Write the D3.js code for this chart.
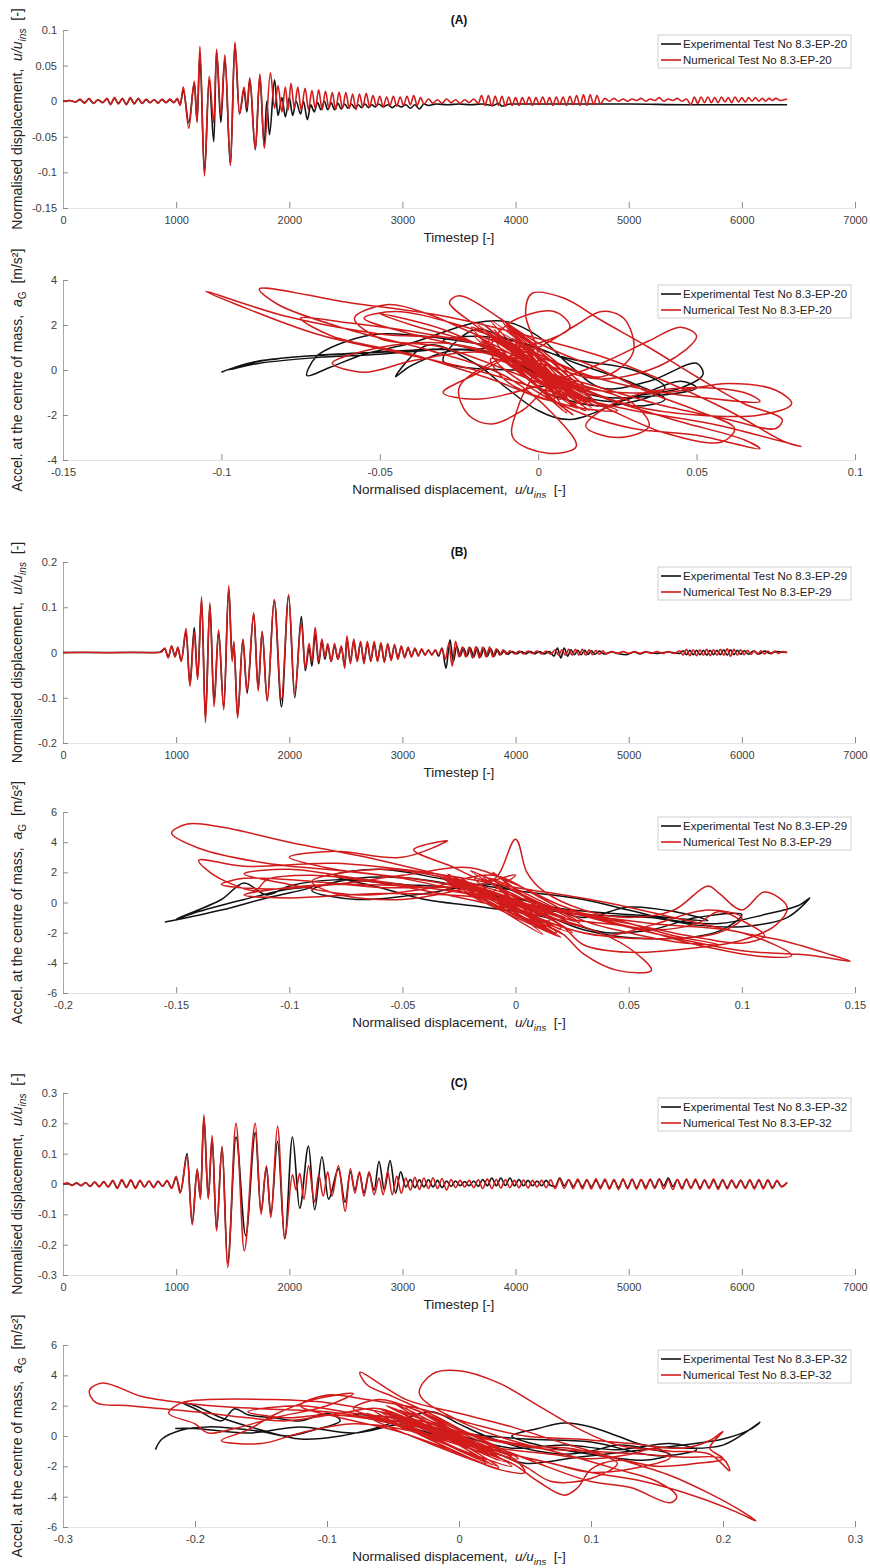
<!DOCTYPE html>
<html><head><meta charset="utf-8">
<script src="https://cdn.jsdelivr.net/npm/d3@7"></script>
<style>body{margin:0;background:#fff}svg{display:block}text{font-family:"Liberation Sans",Arial,sans-serif}</style>
</head><body><svg id="c" width="870" height="1568"></svg>
<script>
// ---------------- DATA ----------------
const timeTicks=[0,1000,2000,3000,4000,5000,6000,7000];
const timeTickLabels=["0","1000","2000","3000","4000","5000","6000","7000"];
const tsA_yTicks=[-0.15,-0.1,-0.05,0,0.05,0.1];
const tsA_yLabels=["-0.15","-0.1","-0.05","0","0.05","0.1"];
const tsB_yTicks=[-0.2,-0.1,0,0.1,0.2];
const tsB_yLabels=["-0.2","-0.1","0","0.1","0.2"];
const tsC_yTicks=[-0.3,-0.2,-0.1,0,0.1,0.2,0.3];
const tsC_yLabels=["-0.3","-0.2","-0.1","0","0.1","0.2","0.3"];
const hyA_xTicks=[-0.15,-0.1,-0.05,0,0.05,0.1];
const hyA_xLabels=["-0.15","-0.1","-0.05","0","0.05","0.1"];
const hyA_yTicks=[-4,-2,0,2,4];
const hyA_yLabels=["-4","-2","0","2","4"];
const hyB_xTicks=[-0.2,-0.15,-0.1,-0.05,0,0.05,0.1,0.15];
const hyB_xLabels=["-0.2","-0.15","-0.1","-0.05","0","0.05","0.1","0.15"];
const hyB_yTicks=[-6,-4,-2,0,2,4,6];
const hyB_yLabels=["-6","-4","-2","0","2","4","6"];
const hyC_xTicks=[-0.3,-0.2,-0.1,0,0.1,0.2,0.3];
const hyC_xLabels=["-0.3","-0.2","-0.1","0","0.1","0.2","0.3"];
const hyC_yTicks=[-6,-4,-2,0,2,4,6];
const hyC_yLabels=["-6","-4","-2","0","2","4","6"];
const panelTitles=["(A)","(B)","(C)"];
const legendA=["Experimental Test No 8.3-EP-20","Numerical Test No 8.3-EP-20"];
const legendB=["Experimental Test No 8.3-EP-29","Numerical Test No 8.3-EP-29"];
const legendC=["Experimental Test No 8.3-EP-32","Numerical Test No 8.3-EP-32"];

// time series: [timestep, u/u_ins] at extrema
const tsA_num=[[0,0],[60,0.001],[110,-0.001],[150,0.003],[190,-0.003],[230,0.004],[270,-0.003],[310,0.002],[350,-0.002],[390,0.004],[420,-0.005],[455,0.005],[490,-0.004],[525,0.004],[560,-0.005],[595,0.005],[630,-0.004],[665,0.004],[700,-0.003],[735,0.003],[770,-0.002],[805,0.002],[840,-0.003],[875,0.003],[910,-0.002],[945,0.003],[980,-0.002],[1010,0.004],[1035,-0.006],[1063,0.02],[1112,-0.038],[1161,0.028],[1185,-0.03],[1210,0.077],[1250,-0.105],[1292,0.035],[1333,-0.03],[1357,0.073],[1395,-0.02],[1431,0.065],[1480,-0.09],[1519,0.083],[1560,-0.018],[1600,0.02],[1625,-0.01],[1651,0.033],[1700,-0.068],[1740,0.038],[1779,-0.066],[1833,0.04],[1870,-0.01],[1900,0.022],[1935,-0.015],[1965,0.02],[1990,-0.012],[2015,0.025],[2045,-0.01],[2075,0.02],[2105,-0.012],[2140,0.018],[2170,-0.012],[2200,0.015],[2230,-0.01],[2260,0.016],[2290,-0.012],[2320,0.014],[2350,-0.01],[2380,0.012],[2410,-0.012],[2440,0.013],[2470,-0.01],[2500,0.012],[2530,-0.01],[2560,0.01],[2590,-0.012],[2620,0.01],[2650,-0.008],[2680,0.011],[2710,-0.008],[2740,0.008],[2770,-0.007],[2800,0.007],[2830,-0.008],[2860,0.006],[2890,-0.006],[2920,0.007],[2950,-0.007],[2980,0.006],[3010,-0.006],[3040,0.007],[3070,-0.005],[3100,0.008],[3130,-0.006],[3160,0.005],[3190,-0.004],[3230,0.003],[3270,-0.003],[3310,0.002],[3350,-0.003],[3390,0.003],[3430,-0.002],[3470,0.002],[3510,-0.003],[3550,0.002],[3590,-0.002],[3630,0.003],[3670,-0.003],[3700,0.008],[3730,-0.006],[3760,0.008],[3790,-0.007],[3820,0.007],[3850,-0.006],[3880,0.007],[3910,-0.007],[3940,0.006],[3970,-0.006],[4000,0.005],[4030,-0.006],[4060,0.005],[4090,-0.005],[4120,0.006],[4150,-0.006],[4180,0.005],[4210,-0.005],[4240,0.006],[4270,-0.005],[4300,0.005],[4330,-0.006],[4360,0.006],[4390,-0.005],[4420,0.006],[4450,-0.006],[4480,0.007],[4510,-0.005],[4540,0.008],[4570,-0.006],[4600,0.009],[4630,-0.006],[4660,0.009],[4690,-0.005],[4720,0.008],[4750,-0.004],[4790,0.004],[4830,0.0],[4870,0.004],[4910,0.0],[4950,0.003],[4990,0.0],[5030,0.003],[5070,0.001],[5110,0.004],[5150,0.0],[5190,0.003],[5230,0.001],[5270,0.005],[5310,0.0],[5350,0.003],[5390,0.001],[5430,0.004],[5470,0.0],[5510,0.003],[5550,-0.005],[5580,0.006],[5610,-0.003],[5640,0.006],[5670,-0.002],[5700,0.006],[5730,-0.002],[5760,0.005],[5790,-0.002],[5820,0.006],[5850,-0.001],[5880,0.005],[5910,-0.002],[5940,0.006],[5970,-0.001],[6000,0.005],[6030,-0.001],[6060,0.005],[6090,0.0],[6120,0.005],[6150,0.0],[6180,0.004],[6210,0.0],[6240,0.004],[6270,0.001],[6300,0.004],[6340,0.001],[6400,0.003]];
const tsA_exp=[[0,0],[60,0.001],[110,-0.001],[150,0.002],[190,-0.002],[230,0.003],[270,-0.003],[310,0.002],[350,-0.002],[390,0.003],[420,-0.004],[455,0.004],[490,-0.003],[525,0.003],[560,-0.004],[595,0.004],[630,-0.003],[665,0.003],[700,-0.003],[735,0.002],[770,-0.002],[805,0.002],[840,-0.002],[875,0.002],[910,-0.002],[945,0.002],[980,-0.002],[1010,0.003],[1035,-0.005],[1063,0.015],[1112,-0.03],[1161,0.025],[1185,-0.028],[1210,0.065],[1250,-0.1],[1292,0.03],[1333,-0.057],[1357,0.07],[1395,-0.03],[1431,0.06],[1480,-0.09],[1519,0.08],[1560,-0.018],[1600,0.015],[1625,-0.015],[1651,0.03],[1700,-0.068],[1740,0.035],[1779,-0.063],[1800,0.0],[1825,-0.047],[1870,0.03],[1900,-0.02],[1935,0.005],[1965,-0.022],[2000,0.005],[2030,-0.02],[2060,0.0],[2100,-0.018],[2125,0.0],[2160,-0.026],[2190,-0.005],[2220,-0.015],[2250,-0.002],[2280,-0.012],[2310,0.0],[2340,-0.012],[2370,-0.002],[2400,-0.012],[2430,-0.003],[2460,-0.011],[2490,-0.004],[2520,-0.01],[2550,-0.004],[2580,-0.01],[2610,-0.005],[2640,-0.009],[2670,-0.004],[2700,-0.009],[2730,-0.005],[2760,-0.008],[2790,-0.004],[2830,-0.008],[2870,-0.005],[2910,-0.009],[2950,-0.005],[2990,-0.008],[3030,-0.005],[3070,-0.01],[3110,-0.005],[3150,-0.011],[3190,-0.004],[3230,-0.006],[3300,-0.004],[3400,-0.005],[3500,-0.004],[3600,-0.005],[3700,-0.004],[3800,-0.006],[3850,-0.003],[3880,-0.007],[3950,-0.004],[4100,-0.004],[4400,-0.004],[4700,-0.004],[5000,-0.004],[5500,-0.005],[6000,-0.005],[6400,-0.005]];

const tsB_num=[[0,0],[200,0.0005],[400,-0.0005],[600,0.0005],[800,-0.0005],[870,0.001],[900,0.01],[930,-0.012],[960,0.015],[990,-0.01],[1015,0.012],[1045,-0.02],[1088,0.053],[1122,-0.075],[1160,0.045],[1190,-0.06],[1225,0.123],[1259,-0.155],[1298,0.11],[1335,-0.12],[1375,0.05],[1421,-0.127],[1465,0.148],[1495,-0.02],[1510,0.025],[1543,-0.145],[1590,0.03],[1627,-0.085],[1686,0.088],[1725,-0.085],[1760,0.047],[1805,-0.108],[1867,0.117],[1931,-0.105],[1994,0.128],[2048,-0.09],[2107,0.065],[2141,-0.035],[2175,0.02],[2200,-0.02],[2229,0.055],[2260,-0.02],[2288,0.03],[2315,-0.01],[2340,0.02],[2370,-0.02],[2400,0.02],[2430,-0.015],[2460,0.015],[2490,-0.035],[2509,0.037],[2540,-0.025],[2570,0.03],[2600,-0.02],[2630,0.025],[2660,-0.025],[2690,0.025],[2720,-0.02],[2750,0.025],[2780,-0.02],[2810,0.022],[2840,-0.022],[2870,0.02],[2900,-0.018],[2930,0.018],[2960,-0.015],[2990,0.015],[3020,-0.012],[3050,0.012],[3080,-0.01],[3110,0.01],[3140,-0.008],[3170,0.008],[3200,-0.006],[3230,0.006],[3260,-0.006],[3290,0.006],[3320,-0.005],[3350,0.008],[3380,-0.015],[3410,0.02],[3440,-0.03],[3470,0.025],[3500,-0.01],[3530,0.012],[3560,-0.01],[3590,0.012],[3620,-0.012],[3650,0.013],[3680,-0.012],[3710,0.012],[3740,-0.01],[3770,0.012],[3800,-0.01],[3830,0.008],[3860,-0.006],[3890,0.006],[3920,-0.004],[3950,0.004],[3990,-0.003],[4030,0.003],[4070,-0.003],[4110,0.003],[4150,-0.002],[4190,0.003],[4230,-0.003],[4270,0.003],[4310,-0.004],[4350,0.006],[4380,-0.006],[4410,0.006],[4440,-0.006],[4470,0.007],[4500,-0.006],[4530,0.007],[4560,-0.006],[4590,0.007],[4620,-0.006],[4650,0.006],[4680,-0.005],[4710,0.005],[4740,-0.004],[4770,0.004],[4800,-0.003],[4850,0.002],[4900,-0.002],[4950,0.002],[5000,-0.002],[5050,0.002],[5100,-0.002],[5150,0.002],[5200,-0.002],[5250,0.002],[5300,-0.002],[5350,0.002],[5400,-0.002],[5450,0.004],[5480,-0.006],[5510,0.007],[5540,-0.007],[5570,0.006],[5600,-0.007],[5630,0.006],[5660,-0.006],[5690,0.007],[5720,-0.007],[5750,0.006],[5780,-0.006],[5810,0.007],[5840,-0.006],[5870,0.008],[5900,-0.008],[5930,0.007],[5960,-0.006],[5990,0.006],[6020,-0.005],[6050,0.005],[6080,-0.004],[6110,0.004],[6140,-0.004],[6170,0.004],[6200,-0.003],[6230,0.003],[6260,-0.003],[6290,0.003],[6320,-0.002],[6360,0.002],[6400,0.0]];
const tsB_exp=[[0,0],[850,0.0],[900,0.008],[930,-0.01],[960,0.013],[990,-0.008],[1015,0.01],[1045,-0.018],[1088,0.045],[1122,-0.07],[1160,0.055],[1190,-0.055],[1225,0.115],[1259,-0.145],[1298,0.105],[1335,-0.11],[1375,0.045],[1421,-0.12],[1465,0.14],[1495,-0.015],[1510,0.02],[1543,-0.14],[1590,0.028],[1627,-0.09],[1686,0.085],[1725,-0.08],[1760,0.045],[1805,-0.105],[1867,0.115],[1931,-0.12],[1994,0.125],[2048,-0.1],[2107,0.08],[2141,-0.04],[2175,0.01],[2200,-0.03],[2229,0.04],[2260,-0.025],[2288,0.025],[2315,-0.015],[2340,0.015],[2370,-0.02],[2400,0.015],[2430,-0.015],[2460,0.012],[2490,-0.03],[2509,0.03],[2540,-0.02],[2570,0.025],[2600,-0.018],[2630,0.022],[2660,-0.02],[2690,0.02],[2720,-0.018],[2750,0.02],[2780,-0.018],[2810,0.02],[2840,-0.02],[2870,0.018],[2900,-0.015],[2930,0.015],[2960,-0.012],[2990,0.012],[3020,-0.01],[3050,0.01],[3080,-0.008],[3110,0.008],[3140,-0.006],[3170,0.006],[3200,-0.005],[3230,0.005],[3260,-0.005],[3290,0.005],[3320,-0.008],[3350,0.01],[3385,-0.035],[3420,0.028],[3450,-0.02],[3480,0.015],[3510,-0.008],[3540,0.01],[3570,-0.008],[3600,0.01],[3630,-0.01],[3660,0.01],[3690,-0.01],[3720,0.01],[3750,-0.008],[3780,0.008],[3810,-0.008],[3840,0.006],[3870,-0.005],[3900,0.004],[3930,-0.004],[3970,0.002],[4010,-0.003],[4050,0.002],[4090,-0.003],[4130,0.002],[4170,-0.003],[4210,0.002],[4250,-0.003],[4300,0.002],[4340,-0.008],[4370,0.01],[4400,-0.012],[4430,0.01],[4460,-0.008],[4490,0.006],[4520,-0.005],[4550,0.005],[4580,-0.005],[4610,0.005],[4640,-0.004],[4670,0.004],[4700,-0.004],[4740,0.003],[4780,-0.003],[4850,0.001],[4900,-0.002],[4980,-0.005],[5050,0.001],[5100,-0.003],[5150,0.001],[5250,-0.002],[5350,0.001],[5450,-0.002],[5480,0.004],[5510,-0.005],[5540,0.005],[5570,-0.005],[5600,0.005],[5630,-0.005],[5660,0.005],[5690,-0.006],[5720,0.005],[5750,-0.005],[5780,0.005],[5810,-0.005],[5840,0.006],[5870,-0.006],[5900,0.006],[5930,-0.005],[5960,0.005],[5990,-0.004],[6020,0.004],[6060,-0.004],[6100,0.003],[6150,-0.003],[6200,0.003],[6250,-0.002],[6300,0.002],[6400,0.0]];

const tsC_num=[[0,0],[40,0.003],[80,-0.005],[120,0.004],[160,-0.006],[200,0.005],[240,-0.008],[280,0.007],[320,-0.01],[360,0.008],[400,-0.01],[440,0.012],[480,-0.015],[520,0.015],[560,-0.012],[600,0.014],[640,-0.015],[680,0.012],[720,-0.01],[760,0.01],[800,-0.012],[840,0.01],[880,-0.008],[920,0.012],[960,-0.015],[1000,0.025],[1035,-0.03],[1097,0.09],[1142,-0.135],[1186,0.05],[1215,-0.05],[1245,0.228],[1284,-0.05],[1318,0.16],[1357,-0.155],[1406,0.125],[1455,-0.275],[1529,0.2],[1602,-0.22],[1700,0.2],[1750,-0.1],[1798,0.06],[1837,-0.11],[1896,0.19],[1960,-0.18],[2028,0.03],[2060,-0.02],[2092,0.035],[2130,-0.05],[2170,0.06],[2224,-0.06],[2260,0.03],[2300,-0.04],[2340,0.04],[2376,-0.04],[2435,0.06],[2494,-0.09],[2540,0.05],[2580,-0.03],[2620,0.04],[2660,-0.04],[2705,0.04],[2750,-0.035],[2793,0.02],[2830,-0.035],[2870,0.04],[2910,-0.035],[2950,0.025],[2990,-0.03],[3030,0.02],[3070,-0.02],[3110,0.022],[3150,-0.018],[3190,0.02],[3230,-0.015],[3270,0.02],[3310,-0.015],[3350,0.018],[3390,-0.02],[3430,0.015],[3470,-0.012],[3510,0.012],[3550,-0.01],[3590,0.012],[3630,-0.012],[3670,0.014],[3710,-0.015],[3750,0.016],[3790,-0.015],[3830,0.015],[3870,-0.013],[3910,0.014],[3950,-0.012],[3990,0.012],[4030,-0.012],[4070,0.013],[4110,-0.013],[4150,0.012],[4190,-0.01],[4230,0.012],[4270,-0.012],[4310,0.014],[4350,-0.015],[4390,0.016],[4430,-0.014],[4470,0.014],[4510,-0.015],[4550,0.016],[4590,-0.016],[4630,0.015],[4670,-0.016],[4710,0.017],[4750,-0.016],[4790,0.016],[4830,-0.017],[4870,0.015],[4910,-0.018],[4950,0.017],[4990,-0.016],[5030,0.016],[5070,-0.017],[5110,0.015],[5150,-0.016],[5190,0.016],[5230,-0.015],[5270,0.015],[5310,-0.016],[5350,0.014],[5390,-0.018],[5430,0.015],[5470,-0.017],[5510,0.016],[5550,-0.015],[5590,0.016],[5630,-0.017],[5670,0.014],[5710,-0.015],[5750,0.016],[5790,-0.018],[5830,0.015],[5870,-0.016],[5910,0.013],[5950,-0.014],[5990,0.013],[6030,-0.015],[6070,0.014],[6110,-0.016],[6150,0.015],[6190,-0.016],[6230,0.014],[6270,-0.015],[6310,0.012],[6350,-0.01],[6400,0.005]];
const tsC_exp=[[0,0],[40,0.002],[80,-0.004],[120,0.003],[160,-0.005],[200,0.004],[240,-0.007],[280,0.006],[320,-0.008],[360,0.007],[400,-0.009],[440,0.01],[480,-0.012],[520,0.012],[560,-0.01],[600,0.012],[640,-0.012],[680,0.01],[720,-0.009],[760,0.009],[800,-0.01],[840,0.008],[880,-0.007],[920,0.01],[960,-0.012],[1000,0.02],[1040,-0.025],[1097,0.1],[1142,-0.13],[1186,0.045],[1215,-0.045],[1245,0.22],[1284,-0.045],[1318,0.15],[1357,-0.15],[1406,0.12],[1455,-0.26],[1529,0.155],[1615,-0.17],[1700,0.17],[1750,-0.09],[1798,0.055],[1837,-0.1],[1896,0.14],[1960,-0.18],[2028,0.155],[2092,-0.08],[2170,0.125],[2224,-0.085],[2288,0.09],[2347,-0.05],[2435,0.05],[2494,-0.06],[2540,0.04],[2580,-0.02],[2620,0.035],[2660,-0.03],[2705,0.035],[2750,-0.02],[2793,0.075],[2840,-0.02],[2891,0.077],[2940,-0.03],[2984,0.04],[3030,-0.01],[3070,0.015],[3110,-0.012],[3150,0.014],[3190,-0.01],[3230,0.014],[3270,-0.01],[3310,0.012],[3350,-0.012],[3390,0.01],[3430,-0.008],[3470,0.01],[3510,-0.006],[3550,0.008],[3590,-0.006],[3630,0.01],[3670,-0.008],[3710,0.015],[3750,-0.006],[3790,0.02],[3830,-0.006],[3870,0.02],[3910,-0.005],[3950,0.02],[3990,-0.006],[4030,0.015],[4070,-0.006],[4110,0.012],[4150,-0.006],[4190,0.01],[4230,-0.006],[4270,0.012],[4310,-0.005],[4350,-0.008],[4390,0.02],[4430,-0.006],[4470,0.014],[4510,-0.008],[4550,0.012],[4590,-0.01],[4630,0.012],[4670,-0.01],[4710,0.012],[4750,-0.01],[4790,0.012],[4830,-0.012],[4870,0.012],[4910,-0.012],[4950,0.013],[4990,-0.012],[5030,0.014],[5070,-0.012],[5110,0.014],[5150,-0.01],[5190,0.013],[5230,-0.01],[5270,0.016],[5310,-0.006],[5350,0.02],[5390,-0.008],[5430,0.014],[5470,-0.012],[5510,0.013],[5550,-0.012],[5590,0.012],[5630,-0.012],[5670,0.012],[5710,-0.012],[5750,0.012],[5790,-0.012],[5830,0.012],[5870,-0.012],[5910,0.011],[5950,-0.01],[5990,0.011],[6030,-0.012],[6070,0.012],[6110,-0.012],[6150,0.012],[6190,-0.012],[6230,0.012],[6270,-0.012],[6310,0.01],[6350,-0.008],[6400,0.005]];

// hysteresis: [u/u_ins, a_G]
const hyA_num=[[0,0],[-0.012,1.5],[0.012,-1.3],[-0.016,1.9],[0.014,-1.6],[-0.01,1.3],[0.016,-1.8],[-0.018,2.1],[0.01,-1.0],[-0.014,1.7],[0.015,-1.5],[-0.008,0.8],[0.012,-1.7],[-0.02,1.6],[0.005,-0.8],[-0.015,2.2],[0.018,-1.4],[-0.006,1.1],[0.009,-1.9],[-0.013,1.2],[0.013,-1.1],[-0.017,1.8],[0.006,-0.6],[-0.01,2.0],[0.011,-1.6],[-0.004,0.7],[0.017,-1.7],[-0.019,2.0],[0.013,-1.5],[-0.011,1.6],[0.016,-1.2],[-0.016,1.4],[0.008,-1.7],[-0.021,1.9],[0.014,-0.9],[-0.007,1.7],[0.019,-1.6],[-0.014,0.9],[0.011,-2.0],[-0.018,1.3],[0.015,-1.8],[-0.012,2.3],[0.007,-1.3],[-0.02,1.5],[0.017,-1.1],[-0.009,1.9],[0.012,-1.5],[-0.02,1.2],[-0.05,1.6],[-0.08,2.4],[-0.105,3.5],[-0.095,2.9],[-0.07,1.6],[-0.045,0.8],[-0.02,0.0],[0.005,-1.0],[0.03,-1.8],[0.055,-2.4],[0.083,-3.4],[0.078,-3.2],[0.06,-1.8],[0.04,-0.5],[0.02,0.6],[0.0,1.4],[-0.03,2.4],[-0.06,3.0],[-0.088,3.6],[-0.082,2.9],[-0.06,1.8],[-0.035,0.9],[-0.01,-0.3],[0.005,-2.0],[0.012,-3.4],[0.003,-3.7],[-0.008,-3.0],[-0.006,-1.5],[0.0,0.5],[-0.004,2.5],[-0.002,3.4],[0.008,3.2],[0.02,2.2],[0.035,1.0],[0.05,-0.3],[0.065,-1.5],[0.077,-2.2],[0.075,-2.6],[0.06,-2.2],[0.04,-1.6],[0.02,-0.8],[0.0,0.0],[-0.02,0.9],[-0.04,1.6],[-0.055,2.3],[-0.045,2.6],[-0.025,2.0],[-0.005,1.0],[0.015,-0.2],[0.035,-0.9],[0.05,-1.2],[0.07,-1.4],[0.065,-1.0],[0.045,-0.8],[0.025,-1.4],[0.015,-2.5],[0.025,-3.0],[0.035,-2.5],[0.03,-1.5],[0.01,-0.5],[-0.01,0.6],[-0.03,1.2],[-0.05,1.0],[-0.065,0.3],[-0.055,-0.1],[-0.04,0.4],[-0.02,0.8],[0.0,0.3],[0.02,-0.4],[0.04,0.3],[0.05,1.5],[0.045,1.9],[0.035,1.3],[0.02,0.3],[0.0,-0.7],[-0.02,-1.3],[-0.03,-1.0],[-0.02,-0.2],[-0.005,0.9],[0.01,1.9],[0.005,2.6],[-0.01,2.0],[-0.015,0.8],[0.0,-1.0],[0.015,-2.0],[0.03,-2.6],[0.05,-2.9],[0.07,-3.5],[0.065,-3.1],[0.045,-2.3],[0.02,-1.2],[0.0,0.0],[-0.02,1.2],[-0.04,2.0],[-0.05,2.5],[-0.03,1.8],[-0.01,0.5],[0.01,-1.0],[0.025,-1.8],[0.01,-1.6],[-0.01,-0.5],[-0.015,0.5],[0.0,-0.3],[0.012,-1.2],[-0.03,1.0],[-0.05,1.4],[-0.058,2.3],[-0.048,2.9],[-0.035,2.5],[-0.02,1.6],[0.0,0.6],[0.02,-0.3],[0.03,0.8],[0.027,2.3],[0.02,2.6],[0.012,2.0],[0.0,1.0],[-0.015,0.3],[-0.025,-0.8],[-0.022,-2.0],[-0.015,-2.4],[-0.005,-1.8],[0.005,-0.7],[0.02,-1.6],[0.04,-2.8],[0.058,-3.2],[0.062,-2.6],[0.05,-1.8],[0.035,-1.0],[0.02,0.0],[0.0,1.2],[-0.025,3.3],[-0.028,3.0],[-0.02,2.0],[-0.005,0.5],[0.015,-0.8],[0.04,-1.0],[0.06,-0.6],[0.075,-0.9],[0.08,-1.5],[0.07,-2.0],[0.05,-2.0],[0.03,-1.6],[0.01,-0.6],[-0.01,0.8],[-0.035,1.6],[-0.06,2.1],[-0.075,2.3],[-0.065,1.5],[-0.04,0.7],[-0.015,-0.4],[0.005,-1.3],[-0.008,1.4],[0.01,-1.4],[-0.014,1.8],[0.0,0.0]];
const hyA_exp=[[-0.1,-0.1],[-0.095,0.15],[-0.085,0.45],[-0.07,0.65],[-0.05,0.8],[-0.03,0.95],[-0.05,0.7],[-0.07,0.55],[-0.088,0.3],[-0.098,0.0],[-0.09,0.35],[-0.075,0.6],[-0.055,0.75],[-0.035,0.9],[-0.015,1.0],[-0.03,1.4],[-0.05,1.6],[-0.06,1.3],[-0.07,0.6],[-0.073,-0.25],[-0.066,0.1],[-0.055,0.7],[-0.04,1.2],[-0.02,2.1],[-0.01,2.15],[0.0,1.5],[0.01,0.2],[0.02,-0.8],[0.035,-0.5],[0.05,0.3],[0.052,-0.2],[0.045,-0.8],[0.03,-1.2],[0.01,-2.2],[0.0,-1.8],[-0.01,-0.8],[-0.02,0.3],[-0.035,1.1],[-0.045,-0.3],[-0.04,0.2],[-0.025,0.9],[-0.01,0.5],[0.0,-0.2],[0.015,-0.9],[0.03,-1.6],[0.04,-1.3],[0.03,-0.6],[0.012,0.3],[-0.005,1.2],[-0.02,1.5],[-0.03,1.3],[-0.01,0.6],[0.005,-0.4],[0.02,-1.2],[0.05,-0.8],[0.045,-0.5],[0.025,-1.4],[0.01,-1.0],[-0.005,0.2],[-0.015,1.0],[-0.008,0.4],[0.005,-0.6],[0.0,-0.8],[0.02,-1.6],[0.04,-0.8],[0.03,0.0],[0.01,0.5],[-0.01,1.4],[-0.02,1.8],[-0.03,0.4],[-0.005,0.0]];

const hyB_num=[[0,0],[-0.025,1.5],[0.02,-1.8],[-0.03,1.9],[0.022,-2.2],[-0.02,1.2],[0.025,-1.5],[-0.015,1.8],[0.018,-2.0],[-0.028,1.4],[0.015,-1.2],[-0.01,2.0],[0.02,-1.7],[-0.022,1.1],[0.012,-2.1],[-0.018,1.6],[0.024,-1.4],[-0.035,1.8],[0.025,-2.0],[-0.02,2.1],[0.03,-1.6],[-0.03,1.3],[0.02,-2.3],[-0.025,1.7],[0.015,-1.9],[-0.012,1.6],[0.028,-1.3],[-0.032,1.6],[0.018,-2.1],[-0.02,1.0],[0.022,-1.0],[-0.03,1.2],[-0.07,2.0],[-0.11,2.6],[-0.14,3.6],[-0.152,4.6],[-0.145,5.2],[-0.13,5.0],[-0.1,4.0],[-0.06,2.8],[-0.02,1.3],[0.02,-0.5],[0.06,-2.0],[0.1,-3.2],[0.13,-3.5],[0.148,-3.9],[0.14,-3.5],[0.12,-2.6],[0.1,-2.0],[0.07,-1.0],[0.04,0.0],[0.0,1.0],[-0.04,2.0],[-0.08,2.6],[-0.12,2.4],[-0.14,2.8],[-0.135,2.0],[-0.125,1.2],[-0.115,0.8],[-0.11,1.5],[-0.09,1.8],[-0.06,1.3],[-0.03,0.5],[0.0,-0.5],[0.03,-1.6],[0.05,-3.0],[0.06,-4.5],[0.045,-4.5],[0.03,-3.4],[0.02,-2.0],[0.0,-0.8],[-0.02,0.5],[-0.05,1.6],[-0.08,2.2],[-0.1,3.0],[-0.08,3.4],[-0.05,3.0],[-0.03,4.1],[-0.045,3.5],[-0.03,2.5],[-0.01,1.5],[0.0,4.2],[0.005,2.0],[0.012,0.8],[0.03,-0.5],[0.05,-1.0],[0.07,-0.5],[0.085,1.1],[0.09,0.6],[0.1,-0.5],[0.11,0.7],[0.12,-0.3],[0.115,-1.5],[0.1,-2.5],[0.08,-3.0],[0.05,-3.3],[0.03,-2.8],[0.02,-1.5],[0.0,-0.2],[-0.03,0.8],[-0.07,1.2],[-0.1,1.0],[-0.12,0.5],[-0.1,0.3],[-0.06,0.6],[-0.02,0.4],[0.02,-0.6],[0.06,-1.4],[0.1,-2.0],[0.122,-3.5],[0.11,-3.6],[0.08,-2.8],[0.05,-1.6],[0.02,-1.0],[0.0,0.2],[-0.03,1.6],[-0.06,2.2],[-0.09,1.4],[-0.08,0.6],[-0.05,0.2],[-0.02,1.0],[0.0,1.8],[-0.01,0.6],[0.01,-1.0],[0.03,-2.0],[0.06,-2.4],[0.09,-2.0],[0.1,-1.0],[0.085,-0.5],[0.06,-1.5],[0.04,-2.2],[0.02,-1.6],[0.0,-0.4],[-0.015,0.8],[-0.06,1.0],[-0.09,1.4],[-0.12,1.6],[-0.13,1.2],[-0.11,0.9],[-0.08,1.2],[-0.05,1.8],[-0.02,2.3],[0.0,1.2],[0.02,-0.2],[0.04,-1.2],[0.06,-1.8],[0.08,-1.4],[0.09,-0.6],[0.1,-1.2],[0.11,-2.2],[0.1,-2.7],[0.08,-2.3],[0.05,-1.4],[0.02,-0.6],[-0.01,0.4],[-0.04,1.0],[-0.07,1.6],[-0.1,2.2],[-0.12,1.9],[-0.1,1.2],[-0.07,0.5],[-0.04,0.9],[-0.01,1.8],[0.01,0.4],[0.03,-1.2],[0.05,-2.0],[0.07,-2.6],[0.09,-2.8],[0.07,-2.2],[0.04,-1.0],[0.0,0.0]];
const hyB_exp=[[-0.155,-1.3],[-0.13,-0.5],[-0.11,0.3],[-0.09,1.0],[-0.1,0.9],[-0.12,0.2],[-0.14,-0.6],[-0.15,-1.1],[-0.13,0.2],[-0.12,1.3],[-0.11,0.5],[-0.1,1.1],[-0.08,1.5],[-0.05,1.2],[-0.03,1.0],[-0.01,0.6],[0.01,-0.4],[0.03,-0.8],[0.06,-1.0],[0.08,-1.5],[0.1,-1.6],[0.12,-1.0],[0.13,0.3],[0.125,-0.2],[0.11,-0.8],[0.09,-1.4],[0.07,-1.2],[0.05,-0.5],[0.03,0.2],[0.0,0.8],[-0.03,1.5],[-0.06,2.2],[-0.08,1.8],[-0.06,1.0],[-0.04,0.2],[-0.02,-0.2],[0.0,-0.6],[0.02,-1.2],[0.04,-2.0],[0.06,-1.8],[0.08,-1.0],[0.1,-0.8],[0.09,-1.9],[0.06,-2.4],[0.03,-1.8],[0.01,-0.6],[-0.01,0.5],[-0.04,1.5],[-0.07,1.6],[-0.09,0.8],[-0.07,0.2],[-0.04,0.6],[-0.01,1.2],[0.01,0.0],[0.03,-1.0],[0.05,-0.3],[0.07,-0.6],[0.085,-1.2],[0.06,-0.9],[0.02,-0.4],[0.0,0.3]];

const hyC_num=[[0,0],[-0.05,1.4],[0.03,-1.6],[-0.06,1.8],[0.04,-1.8],[-0.04,1.2],[0.035,-1.2],[-0.055,2.0],[0.02,-1.0],[-0.03,1.6],[0.04,-2.0],[-0.07,1.5],[0.03,-1.4],[-0.045,1.7],[0.025,-1.9],[-0.06,1.6],[0.035,-1.7],[-0.05,2.2],[0.03,-2.1],[-0.07,1.3],[0.045,-1.5],[-0.04,1.9],[0.02,-1.8],[-0.065,1.7],[0.04,-1.3],[-0.03,1.2],[0.03,-2.0],[-0.055,1.5],[0.025,-1.1],[-0.035,1.0],[-0.05,1.0],[-0.1,1.6],[-0.15,1.8],[-0.2,2.1],[-0.24,2.6],[-0.27,3.5],[-0.28,3.0],[-0.275,2.2],[-0.25,2.0],[-0.2,1.6],[-0.16,1.2],[-0.13,1.0],[-0.09,1.5],[-0.06,1.8],[-0.02,0.4],[0.02,-0.8],[0.06,-1.6],[0.1,-2.4],[0.14,-3.0],[0.18,-4.0],[0.21,-5.0],[0.225,-5.6],[0.215,-5.0],[0.19,-3.8],[0.16,-2.6],[0.12,-1.5],[0.08,-0.5],[0.04,0.6],[0.0,1.5],[-0.04,2.4],[-0.075,4.2],[-0.07,3.4],[-0.05,2.6],[-0.02,1.4],[0.02,-0.4],[0.06,-1.8],[0.1,-3.0],[0.13,-3.4],[0.16,-4.4],[0.165,-4.0],[0.15,-3.0],[0.12,-2.2],[0.08,-1.2],[0.04,-0.3],[0.0,1.0],[-0.03,2.8],[-0.02,4.1],[0.0,4.3],[0.03,3.5],[0.06,2.0],[0.09,0.5],[0.12,-0.6],[0.16,-1.0],[0.19,-1.2],[0.205,-2.3],[0.2,-1.5],[0.17,-1.4],[0.14,-1.2],[0.1,-1.0],[0.06,-0.8],[0.02,-0.2],[-0.02,0.8],[-0.06,1.6],[-0.1,2.2],[-0.14,2.4],[-0.19,2.4],[-0.21,2.2],[-0.22,1.5],[-0.2,0.8],[-0.19,0.2],[-0.17,0.5],[-0.14,1.2],[-0.1,2.0],[-0.08,2.8],[-0.11,2.4],[-0.14,1.4],[-0.16,0.4],[-0.18,-0.3],[-0.15,-0.5],[-0.12,0.2],[-0.08,0.8],[-0.04,0.4],[0.0,-0.6],[0.04,-1.8],[0.06,-3.0],[0.08,-3.9],[0.09,-3.4],[0.1,-2.2],[0.12,-1.6],[0.15,-2.0],[0.18,-1.8],[0.2,-1.5],[0.19,-0.8],[0.2,0.3],[0.19,-0.3],[0.17,-0.8],[0.13,-0.5],[0.09,-0.2],[0.05,0.0],[0.01,0.8],[-0.03,1.8],[-0.07,2.4],[-0.1,2.7],[-0.12,2.0],[-0.09,1.2],[-0.05,0.4],[-0.01,-0.8],[0.03,-2.2],[0.05,-2.4],[0.04,-1.4],[0.01,-0.4],[-0.02,0.8],[-0.08,1.5],[-0.12,2.0],[-0.16,1.6],[-0.13,1.2],[-0.1,1.4],[-0.06,1.0],[-0.02,0.0],[0.03,-0.8],[0.07,-1.2],[0.1,-1.5],[0.13,-1.2],[0.15,-0.8],[0.16,-1.4],[0.14,-2.0],[0.1,-2.4],[0.07,-1.8],[0.04,-1.2],[0.0,-0.2],[-0.04,0.8],[-0.08,1.8],[-0.06,2.4],[-0.03,1.6],[0.0,0.4],[0.05,-0.6],[0.09,-0.9],[0.12,-1.8],[0.1,-2.8],[0.07,-3.0],[0.05,-2.0],[0.02,-0.8],[-0.02,0.6],[0.0,0.0]];
const hyC_exp=[[-0.23,-0.9],[-0.225,-0.2],[-0.21,0.4],[-0.19,0.6],[-0.17,0.5],[-0.15,0.3],[-0.13,0.0],[-0.11,0.4],[-0.09,1.0],[-0.1,1.5],[-0.12,1.0],[-0.14,1.2],[-0.16,1.4],[-0.17,1.8],[-0.18,1.0],[-0.2,1.8],[-0.21,2.2],[-0.2,2.0],[-0.18,1.2],[-0.15,0.4],[-0.12,-0.2],[-0.09,0.0],[-0.06,0.6],[-0.04,1.2],[-0.02,1.6],[0.0,0.8],[0.02,0.0],[0.04,-0.6],[0.06,-1.0],[0.08,-1.2],[0.1,-1.0],[0.12,-0.6],[0.14,-0.8],[0.16,-1.2],[0.14,-1.6],[0.1,-1.2],[0.06,-0.6],[0.04,0.0],[0.06,0.5],[0.08,0.85],[0.1,0.6],[0.12,0.0],[0.14,-0.6],[0.17,-0.8],[0.2,-0.6],[0.228,0.9],[0.22,0.4],[0.2,-0.2],[0.17,-0.6],[0.13,-1.0],[0.09,-1.4],[0.05,-1.8],[0.03,-1.2],[0.0,-0.4],[-0.03,0.4],[-0.06,1.0],[-0.08,1.4],[-0.05,1.2],[-0.02,0.6],[0.01,-0.2],[0.04,-0.8],[0.08,-0.6],[0.12,-0.9],[0.16,-0.5],[0.18,-0.9],[0.15,-1.3],[0.1,-0.4],[0.05,-0.2],[0.0,0.2],[-0.04,0.8],[-0.08,0.2],[-0.12,0.6],[-0.16,0.2],[-0.2,0.5],[-0.215,0.5]];

// ---------------- DRAW ----------------
const svg=d3.select('#c');
const X0=63,X1=855;
const RED='#d21c1c',BLK='#121212';
const FONT='"Liberation Sans",Arial,sans-serif';

const panels=[
 {kind:'ts',top:30,bottom:208,xd:[0,7000],xt:timeTicks,xl:timeTickLabels,yd:[-0.15,0.1],yt:tsA_yTicks,yl:tsA_yLabels,exp:tsA_exp,num:tsA_num,leg:legendA,title:panelTitles[0]},
 {kind:'hy',top:280,bottom:460,xd:[-0.15,0.1],xt:hyA_xTicks,xl:hyA_xLabels,yd:[-4,4],yt:hyA_yTicks,yl:hyA_yLabels,exp:hyA_exp,num:hyA_num,leg:legendA},
 {kind:'ts',top:562,bottom:743,xd:[0,7000],xt:timeTicks,xl:timeTickLabels,yd:[-0.2,0.2],yt:tsB_yTicks,yl:tsB_yLabels,exp:tsB_exp,num:tsB_num,leg:legendB,title:panelTitles[1]},
 {kind:'hy',top:812,bottom:993,xd:[-0.2,0.15],xt:hyB_xTicks,xl:hyB_xLabels,yd:[-6,6],yt:hyB_yTicks,yl:hyB_yLabels,exp:hyB_exp,num:hyB_num,leg:legendB},
 {kind:'ts',top:1093,bottom:1275,xd:[0,7000],xt:timeTicks,xl:timeTickLabels,yd:[-0.3,0.3],yt:tsC_yTicks,yl:tsC_yLabels,exp:tsC_exp,num:tsC_num,leg:legendC,title:panelTitles[2]},
 {kind:'hy',top:1345,bottom:1527,xd:[-0.3,0.3],xt:hyC_xTicks,xl:hyC_xLabels,yd:[-6,6],yt:hyC_yTicks,yl:hyC_yLabels,exp:hyC_exp,num:hyC_num,leg:legendC}
];

function richText(sel,parts,size){
  parts.forEach(p=>{
    const t=sel.append('tspan').text(p.t);
    if(p.i) t.attr('font-style','italic');
    if(p.sub) t.attr('font-size',(size*0.72)+'px').attr('dy',size*0.3);
    if(p.after) t.attr('dy',-size*0.3);
  });
}

panels.forEach(p=>{
  const g=svg.append('g');
  const x=d3.scaleLinear().domain(p.xd).range([X0,X1]);
  const y=d3.scaleLinear().domain(p.yd).range([p.bottom,p.top]);

  const ax=g.append('g').attr('transform',`translate(0,${p.bottom})`)
    .call(d3.axisBottom(x).tickValues(p.xt).tickFormat((d,i)=>p.xl[i]).tickSizeInner(-6).tickSizeOuter(0).tickPadding(8));
  ax.select('.domain').attr('stroke','#e4e4e4');
  ax.selectAll('.tick line').attr('stroke','#8a8a8a');
  ax.selectAll('.tick text').attr('font-family',FONT).attr('font-size','11px').attr('fill','#404040');
  const ay=g.append('g').attr('transform',`translate(${X0},0)`)
    .call(d3.axisLeft(y).tickValues(p.yt).tickFormat((d,i)=>p.yl[i]).tickSizeInner(-5).tickSizeOuter(0).tickPadding(6));
  ay.select('.domain').attr('stroke','#a8a8a8');
  ay.selectAll('.tick line').attr('stroke','#8a8a8a');
  ay.selectAll('.tick text').attr('font-family',FONT).attr('font-size','11px').attr('fill','#404040');

  const line=d3.line().x(d=>x(d[0])).y(d=>y(d[1]))
    .curve(p.kind==='ts'?d3.curveMonotoneX:d3.curveCatmullRom.alpha(0.5));
  const sw=p.kind==='ts'?1.6:1.5;
  g.append('path').datum(p.exp).attr('d',line).attr('fill','none').attr('stroke',BLK).attr('stroke-width',sw).attr('stroke-linejoin','round');
  g.append('path').datum(p.num).attr('d',line).attr('fill','none').attr('stroke',RED).attr('stroke-width',sw).attr('stroke-linejoin','round');

  const lg=g.append('g').attr('transform',`translate(658,${p.top+5})`);
  lg.append('rect').attr('width',193).attr('height',33).attr('fill','#fff').attr('stroke','#c4c4c4').attr('stroke-width',0.8);
  [[BLK,9],[RED,25]].forEach((c,i)=>{
    lg.append('line').attr('x1',3).attr('x2',23).attr('y1',c[1]).attr('y2',c[1]).attr('stroke',c[0]).attr('stroke-width',1.6);
    lg.append('text').attr('x',25).attr('y',c[1]+4).attr('font-family',FONT).attr('font-size','11.5px').attr('fill','#222').text(p.leg[i]);
  });

  if(p.title){
    g.append('text').attr('x',(X0+X1)/2).attr('y',p.top-6).attr('text-anchor','middle')
      .attr('font-family',FONT).attr('font-size','12px').attr('font-weight','bold').attr('fill','#111').text(p.title);
  }

  const cy=(p.top+p.bottom)/2;
  const yl=g.append('text').attr('transform',`translate(22,${cy}) rotate(-90)`).attr('text-anchor','middle')
     .attr('font-family',FONT).attr('font-size','14px').attr('fill','#222');
  if(p.kind==='ts'){
    richText(yl,[{t:'Normalised displacement,\u00a0\u00a0'},{t:'u/u',i:1},{t:'ins',i:1,sub:1},{t:'\u00a0\u00a0[-]',after:1}],14);
    g.append('text').attr('x',(X0+X1)/2).attr('y',p.bottom+34).attr('text-anchor','middle')
      .attr('font-family',FONT).attr('font-size','13.5px').attr('fill','#222').text('Timestep [-]');
  } else {
    richText(yl,[{t:'Accel. at the centre of mass,\u00a0\u00a0'},{t:'a',i:1},{t:'G',sub:1},{t:'\u00a0\u00a0[m/s\u00b2]',after:1}],14);
    const xl=g.append('text').attr('x',(X0+X1)/2).attr('y',p.bottom+34).attr('text-anchor','middle')
      .attr('font-family',FONT).attr('font-size','13.5px').attr('fill','#222');
    richText(xl,[{t:'Normalised displacement,\u00a0\u00a0'},{t:'u/u',i:1},{t:'ins',i:1,sub:1},{t:'\u00a0\u00a0[-]',after:1}],13.5);
  }
});
</script></body></html>
